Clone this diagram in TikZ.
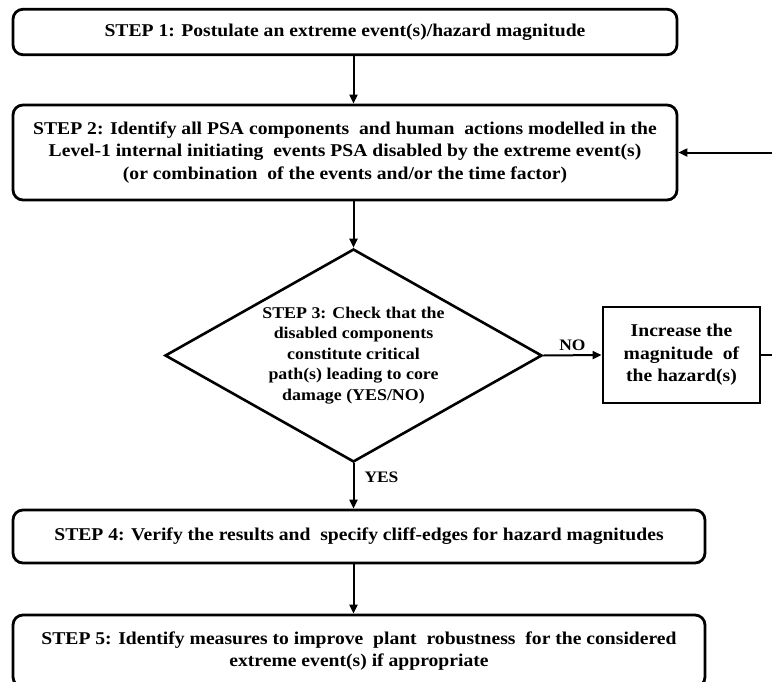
\documentclass[tikz,border=0pt]{standalone}
\usepackage{fontspec}
\setmainfont{Liberation Serif}[FakeStretch=1.09]
\usetikzlibrary{shapes.geometric,arrows.meta}
\begin{document}
\begin{tikzpicture}[x=1pt,y=-1pt,
  txt/.style={font=\fontsize{18}{22.5}\selectfont\bfseries},
  stepbox/.style={txt,draw,line width=2.8pt,rounded corners=10pt,align=center,inner sep=0pt},
  decision/.style={draw,diamond,shape aspect=1.77,line width=2.6pt,align=center,inner sep=-3pt,minimum width=377pt,minimum height=213pt,font=\fontsize{16.4}{20.5}\selectfont\bfseries},
  plainbox/.style={txt,draw,line width=2.8pt,align=center,inner sep=0pt},
  arr/.style={line width=2pt,-{Triangle[length=9pt,width=8pt]}},
  lbl/.style={inner sep=0pt,font=\fontsize{16}{18}\selectfont\bfseries}
]
\useasboundingbox (0,0) rectangle (772,681);
\node[stepbox,minimum width=664pt,minimum height=45.5pt] (s1) at (345,32) {STEP 1: Postulate an extreme event(s)/hazard magnitude};
\node[stepbox,minimum width=664pt,minimum height=95pt] (s2) at (345,152.5) {STEP 2: Identify all PSA components\ \ and human\ \ actions modelled in the\\Level-1 internal initiating\ \ events PSA disabled by the extreme event(s)\\(or combination\ \ of the events and/or the time factor)};
\node[decision] (s3) at (353.5,355.5) {STEP 3: Check that the\\disabled components\\constitute critical\\path(s) leading to core\\damage (YES/NO)};
\node[plainbox,minimum width=157pt,minimum height=96pt] (inc) at (681.5,355) {Increase the\\magnitude\ \ of\\the hazard(s)};
\node[stepbox,minimum width=692pt,minimum height=53pt] (s4) at (359,536.5) {STEP 4: Verify the results and\ \ specify cliff-edges for hazard magnitudes};
\node[stepbox,minimum width=692pt,minimum height=72pt] (s5) at (359,651) {STEP 5: Identify measures to improve\ \ plant\ \ robustness\ \ for the considered\\extreme event(s) if appropriate};
\draw[arr] (s1.south -| s3.north) -- (s2.north -| s3.north);
\draw[arr] (s2.south -| s3.north) -- (s3.north);
\draw[arr] (s3.south) -- (s4.north -| s3.south) node[lbl,pos=0.3,right=10pt] (yes) {YES};
\draw[arr] (s3.east) -- (inc.west) node[lbl,midway,above=4pt] (no) {NO};
\draw[arr] (s4.south -| s3.north) -- (s5.north -| s3.north);
\draw[arr] (inc.east) -- ++(16,0) |- (s2.east);
\end{tikzpicture}
\end{document}
